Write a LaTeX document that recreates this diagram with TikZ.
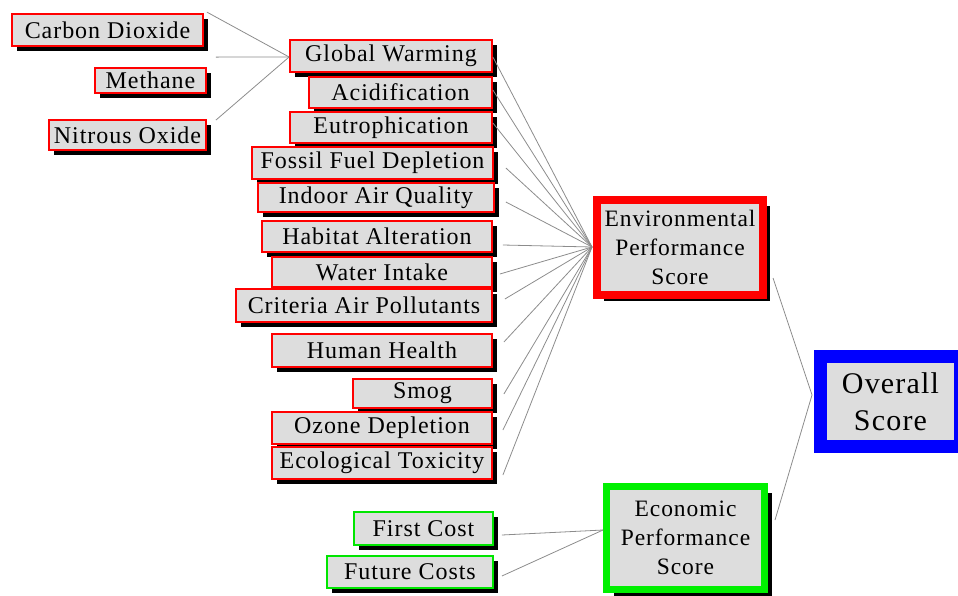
\documentclass[tikz,border=0pt]{standalone}
\usepackage{fontspec}
\setmainfont{Liberation Serif}[LetterSpace=4]
\usetikzlibrary{shadows,calc}
\definecolor{boxfill}{RGB}{221,221,221}
\definecolor{conn}{RGB}{140,140,140}
\tikzset{
  leaf/.style={draw=red, line width=1.8pt, fill=boxfill, inner sep=0pt,
    font=\fontsize{24}{28}\selectfont,
    drop shadow={shadow xshift=5pt, shadow yshift=-5pt, fill=black, opacity=1}},
  greenleaf/.style={leaf, draw={rgb,255:red,0;green,230;blue,0}},
  score/.style={fill=boxfill, inner sep=0pt, align=center,
    font=\fontsize{23.5}{29}\selectfont,
    drop shadow={shadow xshift=7pt, shadow yshift=-6pt, fill=black, opacity=1}},
  link/.style={draw=conn, line width=0.8pt}
}
\begin{document}
\begin{tikzpicture}[x=1pt,y=-1pt]
\useasboundingbox (0,0) rectangle (958,595);
% left column
\node[leaf, minimum width=191, minimum height=32] (cd) at (107.5,30) {Carbon Dioxide};
\node[leaf, minimum width=111, minimum height=25] (me) at (150.5,80.5) {Methane};
\node[leaf, minimum width=157, minimum height=30] (no) at (127.5,135) {Nitrous Oxide};
% middle column
\node[leaf, minimum width=202, minimum height=32] (gw) at (391,56) {Global Warming};
\node[leaf, minimum width=183, minimum height=31] (ac) at (400.5,92.5) {Acidification};
\node[leaf, minimum width=202, minimum height=31] (eu) at (391,127.5) {Eutrophication};
\node[leaf, minimum width=241, minimum height=32] (ff) at (372.5,163) {Fossil Fuel Depletion};
\node[leaf, minimum width=236, minimum height=29] (ia) at (376,197.5) {Indoor Air Quality};
\node[leaf, minimum width=230, minimum height=31] (ha) at (377,236.5) {Habitat Alteration};
\node[leaf, minimum width=220, minimum height=30] (wi) at (382,272) {Water Intake};
\node[leaf, minimum width=256, minimum height=33] (ca) at (364,305.5) {Criteria Air Pollutants};
\node[leaf, minimum width=220, minimum height=33] (hh) at (382,350.5) {Human Health};
\node[leaf, minimum width=139, minimum height=29] (sm) at (422.5,393.5) {Smog};
\node[leaf, minimum width=220, minimum height=32] (oz) at (382,428) {Ozone Depletion};
\node[leaf, minimum width=220, minimum height=32] (et) at (382,463) {Ecological Toxicity};
\node[greenleaf, minimum width=139, minimum height=33] (fc) at (423.5,528.5) {First Cost};
\node[greenleaf, minimum width=166, minimum height=32] (fu) at (410,572) {Future Costs};
% score boxes
\node[score, draw=red, line width=8pt, minimum width=166, minimum height=95] (env) at (680,247.5)
  {Environmental\\Performance\\Score};
\node[score, draw={rgb,255:red,0;green,240;blue,0}, line width=7pt, minimum width=158, minimum height=103] (eco) at (685.5,538)
  {Economic\\Performance\\Score};
\node[score, draw=blue, line width=13pt, minimum width=140, minimum height=90,
  font=\fontsize{30}{37}\selectfont, drop shadow={shadow xshift=5pt, shadow yshift=-5pt, fill=black, opacity=1}] (ov) at (890.5,401.5)
  {Overall\\Score};
% connection points
\coordinate (gwin) at ($(gw.west)+(0,1)$);
\coordinate (envin) at ($(env.west)+(-1,-0.5)$);
\coordinate (ecoin) at ($(eco.west)+(0,-8)$);
\coordinate (ovin) at ($(ov.west)+(-2,-6.5)$);
% connectors
\draw[link] ($(cd.north east)+(3,-1)$) -- (gwin);
\draw[link] ($(me.north east)+(9,-10)$) -- (gwin);
\draw[link] ($(no.north east)+(9,1)$) -- (gwin);
\draw[link] ($(gw.east)+(0,1)$) -- (envin);
\draw[link] ($(ac.east)+(0,-2.5)$) -- (envin);
\draw[link] ($(eu.east)+(0,-4.5)$) -- (envin);
\draw[link] ($(ff.east)+(12,5)$) -- (envin);
\draw[link] ($(ia.east)+(11,4.5)$) -- (envin);
\draw[link] ($(ha.east)+(10,8.5)$) -- (envin);
\draw[link] ($(wi.east)+(7,2)$) -- (envin);
\draw[link] ($(ca.east)+(12,-6.5)$) -- (envin);
\draw[link] ($(hh.east)+(11,-8.5)$) -- (envin);
\draw[link] ($(sm.east)+(11,0.5)$) -- (envin);
\draw[link] ($(oz.east)+(10,2)$) -- (envin);
\draw[link] ($(et.east)+(10,12)$) -- (envin);
\draw[link] ($(fc.east)+(8,6.5)$) -- (ecoin);
\draw[link] ($(fu.east)+(8,4)$) -- (ecoin);
\draw[link] ($(env.south east)+(6,-21)$) -- (ovin);
\draw[link] ($(eco.north east)+(7,37)$) -- (ovin);
\end{tikzpicture}
\end{document}
